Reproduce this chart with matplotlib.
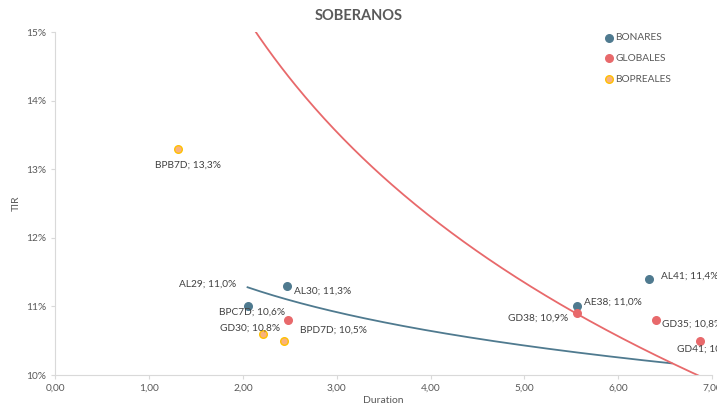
import matplotlib.pyplot as plt
import numpy as np
from matplotlib.ticker import FuncFormatter

# Datos de los bonos (duration, TIR en %)
bonares_names = ['AL29', 'AL30', 'AE38', 'AL41']
bonares_dur = [2.05, 2.47, 5.56, 6.33]
bonares_tir = [11.0, 11.3, 11.0, 11.4]

globales_names = ['GD30', 'GD38', 'GD35', 'GD41']
globales_dur = [2.48, 5.56, 6.40, 6.87]
globales_tir = [10.8, 10.9, 10.8, 10.5]

bopreales_names = ['BPB7D', 'BPC7D', 'BPD7D']
bopreales_dur = [1.31, 2.21, 2.44]
bopreales_tir = [13.3, 10.6, 10.5]

# Curvas de tendencia logarítmicas: TIR = a + b * ln(duration)
bonares_trend = (11.964, -0.953, 2.05, 6.57)
globales_trend = (18.27, -4.30, 2.10, 7.2)

c_blue = '#4F7A8F'
c_red = '#E8696B'
c_yel_face = '#F9B27C'
c_yel_edge = '#FFC000'
c_text = '#595959'

plt.rcParams['font.family'] = ['Lato', 'DejaVu Sans']

fig = plt.figure(figsize=(7.17, 4.13), dpi=100)
ax = fig.add_axes([0.077, 0.092, 0.916, 0.83])

# Tendencias
for (a, b, x0, x1), col in [(bonares_trend, c_blue), (globales_trend, c_red)]:
    xs = np.linspace(x0, x1, 200)
    ax.plot(xs, a + b * np.log(xs), color=col, lw=1.3, zorder=2)

ax.scatter(bonares_dur, bonares_tir, s=30, color=c_blue, label='BONARES', zorder=3)
ax.scatter(globales_dur, globales_tir, s=30, color=c_red, label='GLOBALES', zorder=3)
ax.scatter(bopreales_dur, bopreales_tir, s=30, color=c_yel_face, edgecolor=c_yel_edge,
           linewidth=1, label='BOPREALES', zorder=3)

# Etiquetas (desplazamiento en pixeles, alineacion)
label_pos = {
    'AL29': (-11, 22, 'right'), 'AL30': (7, -5, 'left'),
    'AE38': (7, 4, 'left'), 'AL41': (12, 3, 'left'),
    'GD30': (-8, -8, 'right'), 'GD38': (-9, -5, 'right'),
    'GD35': (6, -4, 'left'), 'GD41': (-23, -8, 'left'),
    'BPB7D': (10, -16, 'center'), 'BPC7D': (-10, 22, 'center'),
    'BPD7D': (16, 11, 'left'),
}

def fmt_pct(v):
    return ('%.1f' % v).replace('.', ',') + '%'

for names, xs, ys in [(bonares_names, bonares_dur, bonares_tir),
                      (globales_names, globales_dur, globales_tir),
                      (bopreales_names, bopreales_dur, bopreales_tir)]:
    for n, x, y in zip(names, xs, ys):
        dx, dy, ha = label_pos[n]
        ax.annotate(f'{n}; {fmt_pct(y)}', (x, y), xytext=(dx, dy),
                    textcoords='offset pixels', ha=ha, va='center',
                    fontsize=7.3, color='#404040', annotation_clip=False)

ax.set_xlim(0, 7)
ax.set_ylim(10, 15)
ax.set_xticks(np.arange(0, 8, 1))
ax.set_yticks(np.arange(10, 16, 1))
ax.xaxis.set_major_formatter(FuncFormatter(lambda v, p: ('%.2f' % v).replace('.', ',')))
ax.yaxis.set_major_formatter(FuncFormatter(lambda v, p: '%d%%' % v))
ax.tick_params(labelsize=7.3, colors=c_text, length=3, color='#D9D9D9')
for s in ['top', 'right']:
    ax.spines[s].set_visible(False)
for s in ['left', 'bottom']:
    ax.spines[s].set_color('#D9D9D9')

ax.set_xlabel('Duration', fontsize=7.5, color=c_text, labelpad=2)
ax.set_ylabel('TIR', fontsize=7.5, color=c_text, labelpad=4)
fig.text(0.5, 0.962, 'SOBERANOS', ha='center', va='center', fontsize=10.5,
         fontweight='bold', color=c_text)

leg = ax.legend(loc='upper left', bbox_to_anchor=(600 / 717, 1 - 28 / 413),
                bbox_transform=fig.transFigure, frameon=False, borderpad=0,
                fontsize=7.3, handlelength=0.8, handletextpad=0.2,
                labelspacing=1.15, labelcolor=c_text)

fig.savefig('out.png', dpi=100)
